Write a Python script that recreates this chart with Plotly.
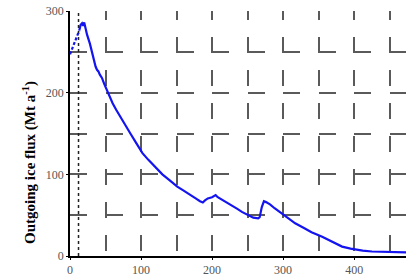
import plotly.graph_objects as go

# Data
x_early = [0, 4, 8, 11, 13]
y_early = [247, 256, 264, 271, 276]

x_flux = [13, 15, 17, 18.5, 20, 22, 24, 28, 32, 36, 38, 40, 42, 45, 48, 52, 56, 60, 65, 71,
          78, 85, 92, 102, 110, 118, 130, 140, 151, 160, 170, 178, 183, 187, 190, 194, 200,
          205, 208, 212, 216, 222, 227, 235, 242, 251, 258, 265, 267, 270, 273, 276, 282,
          288, 295, 303, 310, 317, 330, 340, 355, 365, 375, 383, 395, 405, 412, 425, 440,
          455, 475]
y_flux = [276, 283, 285, 282, 286, 278, 271, 260, 245, 232, 228, 226, 222, 218, 211, 203, 194,
          187, 179, 170, 159, 150, 140, 126, 118, 111, 100, 93, 85, 80, 75, 70, 67, 65.5, 68,
          70.5, 72, 74.5, 72, 70, 68, 65, 62.5, 58, 54, 50, 47, 46, 47.5, 60, 67, 66, 63,
          58.5, 54, 50, 45, 40, 34, 29, 23.5, 19, 14.5, 11.5, 9, 7.5, 6.5, 5.5, 5, 4.5, 4.5]

marker_x = [12, 12]
marker_y = [0, 300]

x_ticks = [0, 100, 200, 300, 400]
y_ticks = [0, 100, 200, 300]
y_title = "<b>Outgoing ice flux (Mt a<sup>-1</sup>)</b>"

BLUE = "#1414f0"
GRID = "#5a5a5a"
font = "Liberation Serif"

fig = go.Figure()
fig.add_trace(go.Scatter(x=marker_x, y=marker_y, mode="lines",
                         line=dict(color="#222222", width=1.5, dash="3px,3px"),
                         showlegend=False, hoverinfo="skip"))
fig.add_trace(go.Scatter(x=x_early, y=y_early, mode="lines",
                         line=dict(color=BLUE, width=2.2, dash="3px,2px"),
                         showlegend=False))
fig.add_trace(go.Scatter(x=x_flux, y=y_flux, mode="lines",
                         line=dict(color=BLUE, width=2.2),
                         showlegend=False))

vdash = "9px,17px,16px,17px,16px,17px,16px,17px,16px,17px,16px,17px,16px,17px,16px,17px,16px,17px"
hdash = "17px,18.5px"

fig.update_layout(
    width=406, height=276,
    margin=dict(l=70, r=0, t=11, b=20),
    paper_bgcolor="white", plot_bgcolor="white",
    font=dict(family=font, size=12, color="#555555"),
    xaxis=dict(range=[0, 473], tickvals=x_ticks, showgrid=True, gridcolor=GRID,
               gridwidth=1.5, griddash=vdash, zeroline=False,
               showline=True, linecolor="black", linewidth=1.5,
               ticks="outside", ticklen=2, tickcolor="black",
               minor=dict(dtick=50, tick0=0, showgrid=True, gridcolor=GRID,
                          gridwidth=1.5, griddash=vdash),
               tickfont=dict(family=font, size=12, color="#555555")),
    yaxis=dict(range=[0, 300], tickvals=y_ticks, showgrid=True, gridcolor=GRID,
               gridwidth=1.5, griddash=hdash, zeroline=False,
               showline=True, linecolor="black", linewidth=1.5,
               ticks="outside", ticklen=2, tickcolor="black",
               minor=dict(dtick=50, tick0=0, showgrid=True, gridcolor=GRID,
                          gridwidth=1.5, griddash=hdash),
               tickfont=dict(family=font, size=12, color="#555555")),
    annotations=[dict(text=y_title, xref="paper", yref="paper", x=-0.119, y=0.38,
                      xanchor="center", yanchor="middle", textangle=-90, showarrow=False,
                      font=dict(family=font, size=15, color="black"))],
)

fig.write_html("out.html")
